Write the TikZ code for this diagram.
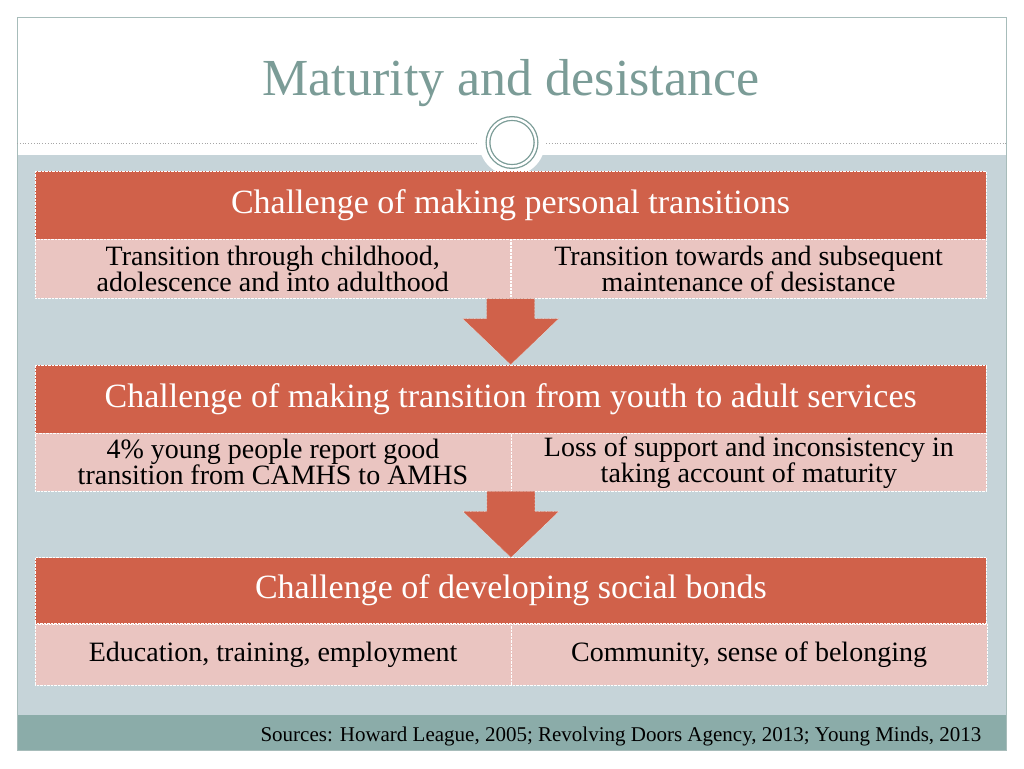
\documentclass[tikz,border=0pt]{standalone}
\usepackage{fontspec}
\setmainfont{Liberation Serif}
\usetikzlibrary{positioning,calc}

\definecolor{civicred}{HTML}{D0614A}
\definecolor{civicpink}{HTML}{EAC5C1}
\definecolor{civicgray}{HTML}{C6D4D9}
\definecolor{civicteal}{HTML}{8BACA9}
\definecolor{titlegreen}{HTML}{7B9C97}
\definecolor{frameline}{HTML}{A7BCBA}

\begin{document}
\begin{tikzpicture}[x=1pt,y=1pt,node distance=0pt,
  header/.style={fill=civicred,draw=white,densely dotted,text=white,
    minimum width=951pt,minimum height=68pt,inner sep=0pt,
    font=\fontsize{34}{40}\selectfont},
  cell/.style={fill=civicpink,draw=white,densely dotted,text=black,
    minimum width=475.5pt,minimum height=59pt,inner sep=0pt,align=center,
    font=\fontsize{28}{26}\selectfont},
  blockarrow/.style={fill=civicred,draw=white,densely dotted}]
  \useasboundingbox (0,0) rectangle (1024,-768);

  % slide background
  \fill[white] (0,0) rectangle (1024,-768);
  \fill[civicgray] (17,-155) rectangle (1006,-715);
  \fill[civicteal] (17,-715) rectangle (1006,-750);
  \draw[frameline] (17,-17) rectangle (1006,-750);
  \draw[gray!70,dotted,line width=0.8pt] (17,-143) -- (1006,-143);

  \node[text=titlegreen,font=\fontsize{52}{60}\selectfont,anchor=base]
    (title) at (511,-95) {Maturity and desistance};
  \node[circle,fill=white,minimum size=66pt,inner sep=0pt] (disc) at (512,-142.5) {};
  \node[circle,draw=titlegreen,line width=1.3pt,double=white,double distance=2.4pt,
    minimum size=48pt,inner sep=0pt] (ring) at (disc) {};

  % first challenge
  \node[header] (h1) at (510.5,-205) {Challenge of making personal transitions};
  \node[cell] (l1) [below right=of h1.south west]
    {Transition through childhood,\\adolescence and into adulthood};
  \node[cell] (r1) [right=of l1]
    {Transition towards and subsequent\\maintenance of desistance};

  % second challenge
  \node[header] (h2) [below=66pt of l1.south east]
    {Challenge of making transition from youth to adult services};
  \node[cell,minimum height=58pt] (l2) [below right=of h2.south west]
    {4\% young people report good\\transition from CAMHS to AMHS};
  \node[cell,minimum height=58pt] (r2) [right=of l2]
    {Loss of support and inconsistency in\\taking account of maturity};

  % third challenge
  \node[header,minimum height=66pt] (h3) [below=66pt of l2.south east]
    {Challenge of developing social bonds};
  \node[cell,minimum height=61pt] (l3) [below right=of h3.south west]
    {Education, training, employment};
  \node[cell,minimum height=61pt] (r3) [right=of l3]
    {Community, sense of belonging};

  % arrows between the boxes
  \foreach \from/\to in {l1/h2,l2/h3}
    \draw[blockarrow] ($(\from.south east)+(-24,0)$) -- ++(0,-20) -- ++(-24,0)
      -- (\to.north) -- ($(\from.south east)+(48,-20)$) -- ++(-24,0) -- ++(0,20);

  \node[font=\fontsize{21}{24}\selectfont,anchor=base east] (src) at (985,-741)
    {Sources: Howard League, 2005; Revolving Doors Agency, 2013; Young Minds, 2013};
\end{tikzpicture}
\end{document}
